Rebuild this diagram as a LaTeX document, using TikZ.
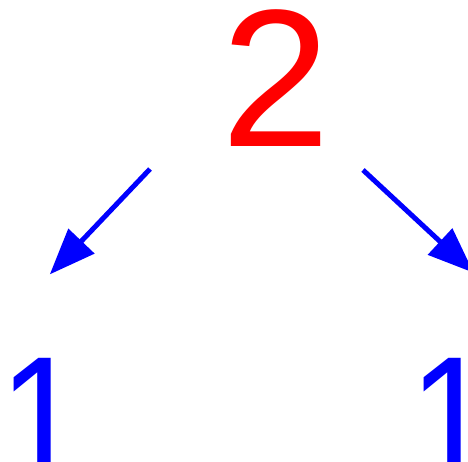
\documentclass[tikz,border=0pt]{standalone}
\usepackage{fontspec}
\setmainfont{Liberation Sans}
\usetikzlibrary{arrows.meta}
\definecolor{pred}{RGB}{255,0,0}
\definecolor{pblue}{RGB}{0,0,255}
\begin{document}
\begin{tikzpicture}[x=1pt,y=1pt,
  digit/.style={inner sep=0pt, outer sep=0pt, anchor=base west},
  big/.style={digit, text=pred, font=\fontsize{196}{196}\selectfont},
  small/.style={digit, text=pblue, font=\fontsize{152}{152}\selectfont, yscale=1.14, transform shape},
  arr/.style={draw=pblue, line width=5pt, -{Triangle[length=46pt,width=35pt]}}]
\useasboundingbox (0,0) rectangle (468,461);
\node[big] (two) at (221.3,314) {2};
\node[small] (oneL) at (-0.6,-16) {1};
\node[small] (oneR) at (409.4,-16) {1};
\coordinate (sL) at (150,292);
\coordinate (tL) at (49.8,186.6);
\coordinate (sR) at (363,291);
\coordinate (tR) at (473.7,188.2);
\draw[arr] (sL) -- (tL);
\draw[arr] (sR) -- (tR);
\end{tikzpicture}
\end{document}
